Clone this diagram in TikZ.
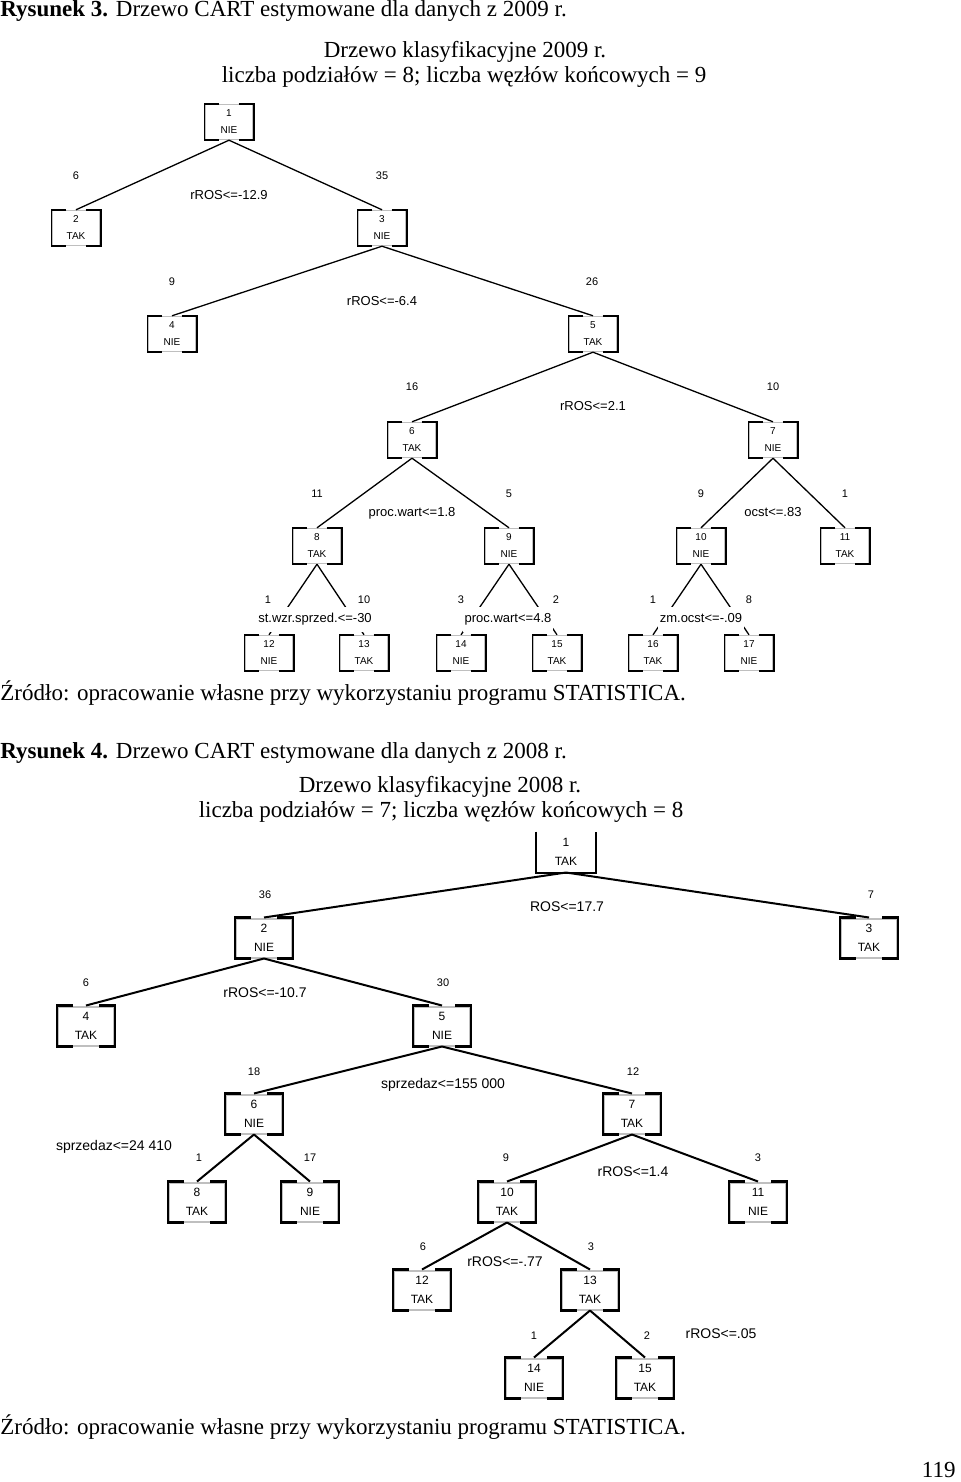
\documentclass[tikz,border=0pt]{standalone}
\usepackage{fontspec}
\setmainfont{Liberation Serif}
\newfontfamily\arial{Liberation Sans}
\tikzset{
  cbox/.style={rectangle, draw=black!25, line width=0.7pt, minimum width=24pt, minimum height=17.5pt, inner sep=0pt, align=center, font=\arial\fontsize{5}{8.5}\selectfont},
  cboxb/.style={cbox, line width=1pt, minimum width=28pt, minimum height=19.5pt, font=\arial\fontsize{6}{9.5}\selectfont},
  edge/.style={line width=0.65pt},
  edgeb/.style={line width=1pt},
  cnt/.style={font=\arial\fontsize{5.5}{6}\selectfont, inner sep=0pt},
  cntb/.style={font=\arial\fontsize{5.5}{6}\selectfont, inner sep=0pt},
  cond/.style={font=\arial\fontsize{6.5}{7}\selectfont, fill=white, inner xsep=1pt, inner ysep=3pt, text height=5pt, text depth=1.5pt},
  condb/.style={font=\arial\fontsize{7}{8}\selectfont, inner sep=0pt},
  txt/.style={font=\fontsize{11.5}{13}\selectfont, inner sep=0pt}
}
\newcommand{\boxcorners}[3]{%
  \draw[line width=#3] ([xshift=#2]#1.north west) -- (#1.north west) -- (#1.south west) -- ([xshift=#2]#1.south west)
    ([xshift=-#2]#1.north east) -- (#1.north east) -- (#1.south east) -- ([xshift=-#2]#1.south east);}
\begin{document}
\begin{tikzpicture}[x=0.5pt, y=-0.5pt]
    \useasboundingbox (0,0) rectangle (960,1482);
    % Rysunek 3
    \node[txt, anchor=west] (cap3) at (0,11) {\textbf{Rysunek 3.} Drzewo CART estymowane dla danych z 2009 r.};
    \node[txt] (tit3a) at (465,52) {Drzewo klasyfikacyjne 2009 r.};
    \node[txt] (tit3b) at (464,77) {liczba podziałów = 8; liczba węzłów końcowych = 9};
    \node[cbox] (n1) at (229,122) {1\\NIE};
    \node[cbox] (n2) at (76,228) {2\\TAK};
    \node[cbox] (n3) at (382,228) {3\\NIE};
    \node[cbox] (n4) at (172,334) {4\\NIE};
    \node[cbox] (n5) at (593,334) {5\\TAK};
    \node[cbox] (n6) at (412,440) {6\\TAK};
    \node[cbox] (n7) at (773,440) {7\\NIE};
    \node[cbox] (n8) at (317,546) {8\\TAK};
    \node[cbox] (n9) at (509,546) {9\\NIE};
    \node[cbox] (n10) at (701,546) {10\\NIE};
    \node[cbox] (n11) at (845,546) {11\\TAK};
    \node[cbox] (n12) at (269,653) {12\\NIE};
    \node[cbox] (n13) at (364,653) {13\\TAK};
    \node[cbox] (n14) at (461,653) {14\\NIE};
    \node[cbox] (n15) at (557,653) {15\\TAK};
    \node[cbox] (n16) at (653,653) {16\\TAK};
    \node[cbox] (n17) at (749,653) {17\\NIE};
    \foreach \n in {n1,n2,n3,n4,n5,n6,n7,n8,n9,n10,n11,n12,n13,n14,n15,n16,n17}
        \boxcorners{\n}{7.5pt}{0.8pt};
    \draw[edge] (n1.south) -- (n2.north);
    \draw[edge] (n1.south) -- (n3.north);
    \draw[edge] (n3.south) -- (n4.north);
    \draw[edge] (n3.south) -- (n5.north);
    \draw[edge] (n5.south) -- (n6.north);
    \draw[edge] (n5.south) -- (n7.north);
    \draw[edge] (n6.south) -- (n8.north);
    \draw[edge] (n6.south) -- (n9.north);
    \draw[edge] (n7.south) -- (n10.north);
    \draw[edge] (n7.south) -- (n11.north);
    \draw[edge] (n8.south) -- (n12.north);
    \draw[edge] (n8.south) -- (n13.north);
    \draw[edge] (n9.south) -- (n14.north);
    \draw[edge] (n9.south) -- (n15.north);
    \draw[edge] (n10.south) -- (n16.north);
    \draw[edge] (n10.south) -- (n17.north);
    \node[cnt] (c2) at (76,176) {6};
    \node[cnt] (c3) at (382,176) {35};
    \node[cnt] (c4) at (172,282) {9};
    \node[cnt] (c5) at (592,282) {26};
    \node[cnt] (c6) at (412,387) {16};
    \node[cnt] (c7) at (773,387) {10};
    \node[cnt] (c8) at (317,494) {11};
    \node[cnt] (c9) at (509,494) {5};
    \node[cnt] (c10) at (701,494) {9};
    \node[cnt] (c11) at (845,494) {1};
    \node[cnt] (c12) at (268,600) {1};
    \node[cnt] (c13) at (364,600) {10};
    \node[cnt] (c14) at (461,600) {3};
    \node[cnt] (c15) at (556,600) {2};
    \node[cnt] (c16) at (653,600) {1};
    \node[cnt] (c17) at (749,600) {8};
    \node[cond] (s1) at (229,196) {rROS<=-12.9};
    \node[cond] (s3) at (382,302) {rROS<=-6.4};
    \node[cond] (s5) at (593,407) {rROS<=2.1};
    \node[cond] (s6) at (412,513) {proc.wart<=1.8};
    \node[cond] (s7) at (773,513) {ocst<=.83};
    \node[cond] (s8) at (315,619) {st.wzr.sprzed.<=-30};
    \node[cond] (s9) at (508,619) {proc.wart<=4.8};
    \node[cond] (s10) at (701,619) {zm.ocst<=-.09};
    \node[txt, anchor=west] (src3) at (0,693) {Źródło: opracowanie własne przy wykorzystaniu programu STATISTICA.};
    % Rysunek 4
    \node[txt, anchor=west] (cap4) at (0,753) {\textbf{Rysunek 4.} Drzewo CART estymowane dla danych z 2008 r.};
    \node[txt] (tit4a) at (440,787) {Drzewo klasyfikacyjne 2008 r.};
    \node[txt] (tit4b) at (441,812) {liczba podziałów = 7; liczba węzłów końcowych = 8};
    \node[cboxb, draw=none, minimum width=29pt] (r1) at (566,852) {1\\TAK};
    \draw[edgeb] (r1.north west) |- (r1.south east) -- (r1.north east);
    \node[cboxb] (b2) at (264,938) {2\\NIE};
    \node[cboxb] (b3) at (869,938) {3\\TAK};
    \node[cboxb] (b4) at (86,1026) {4\\TAK};
    \node[cboxb] (b5) at (442,1026) {5\\NIE};
    \node[cboxb] (b6) at (254,1114) {6\\NIE};
    \node[cboxb] (b7) at (632,1114) {7\\TAK};
    \node[cboxb] (b8) at (197,1202) {8\\TAK};
    \node[cboxb] (b9) at (310,1202) {9\\NIE};
    \node[cboxb] (b10) at (507,1202) {10\\TAK};
    \node[cboxb] (b11) at (758,1202) {11\\NIE};
    \node[cboxb] (b12) at (422,1290) {12\\TAK};
    \node[cboxb] (b13) at (590,1290) {13\\TAK};
    \node[cboxb] (b14) at (534,1378) {14\\NIE};
    \node[cboxb] (b15) at (645,1378) {15\\TAK};
    \foreach \n in {b2,b3,b4,b5,b6,b7,b8,b9,b10,b11,b12,b13,b14,b15}
        \boxcorners{\n}{8pt}{1.1pt};
    \draw[edgeb] (r1.south) -- (b2.north);
    \draw[edgeb] (r1.south) -- (b3.north);
    \draw[edgeb] (b2.south) -- (b4.north);
    \draw[edgeb] (b2.south) -- (b5.north);
    \draw[edgeb] (b5.south) -- (b6.north);
    \draw[edgeb] (b5.south) -- (b7.north);
    \draw[edgeb] (b6.south) -- (b8.north);
    \draw[edgeb] (b6.south) -- (b9.north);
    \draw[edgeb] (b7.south) -- (b10.north);
    \draw[edgeb] (b7.south) -- (b11.north);
    \draw[edgeb] (b10.south) -- (b12.north);
    \draw[edgeb] (b10.south) -- (b13.north);
    \draw[edgeb] (b13.south) -- (b14.north);
    \draw[edgeb] (b13.south) -- (b15.north);
    \node[cntb] (d2) at (265,895) {36};
    \node[cntb] (d3) at (871,895) {7};
    \node[cntb] (d4) at (86,983) {6};
    \node[cntb] (d5) at (443,983) {30};
    \node[cntb] (d6) at (254,1072) {18};
    \node[cntb] (d7) at (633,1072) {12};
    \node[cntb] (d8) at (199,1158) {1};
    \node[cntb] (d9) at (310,1158) {17};
    \node[cntb] (d10) at (506,1158) {9};
    \node[cntb] (d11) at (758,1158) {3};
    \node[cntb] (d12) at (423,1247) {6};
    \node[cntb] (d13) at (591,1247) {3};
    \node[cntb] (d14) at (534,1336) {1};
    \node[cntb] (d15) at (647,1336) {2};
    \node[condb] (t1) at (567,907) {ROS<=17.7};
    \node[condb] (t2) at (265,993) {rROS<=-10.7};
    \node[condb] (t5) at (443,1085) {sprzedaz<=155 000};
    \node[condb] (t6) at (114,1147) {sprzedaz<=24 410};
    \node[condb] (t7) at (633,1172) {rROS<=1.4};
    \node[condb] (t10) at (505,1262) {rROS<=-.77};
    \node[condb] (t13) at (721,1334) {rROS<=.05};
    \node[txt, anchor=west] (src4) at (0,1427) {Źródło: opracowanie własne przy wykorzystaniu programu STATISTICA.};
    \node[txt, anchor=east] (page) at (956,1470) {119};
\end{tikzpicture}
\end{document}
